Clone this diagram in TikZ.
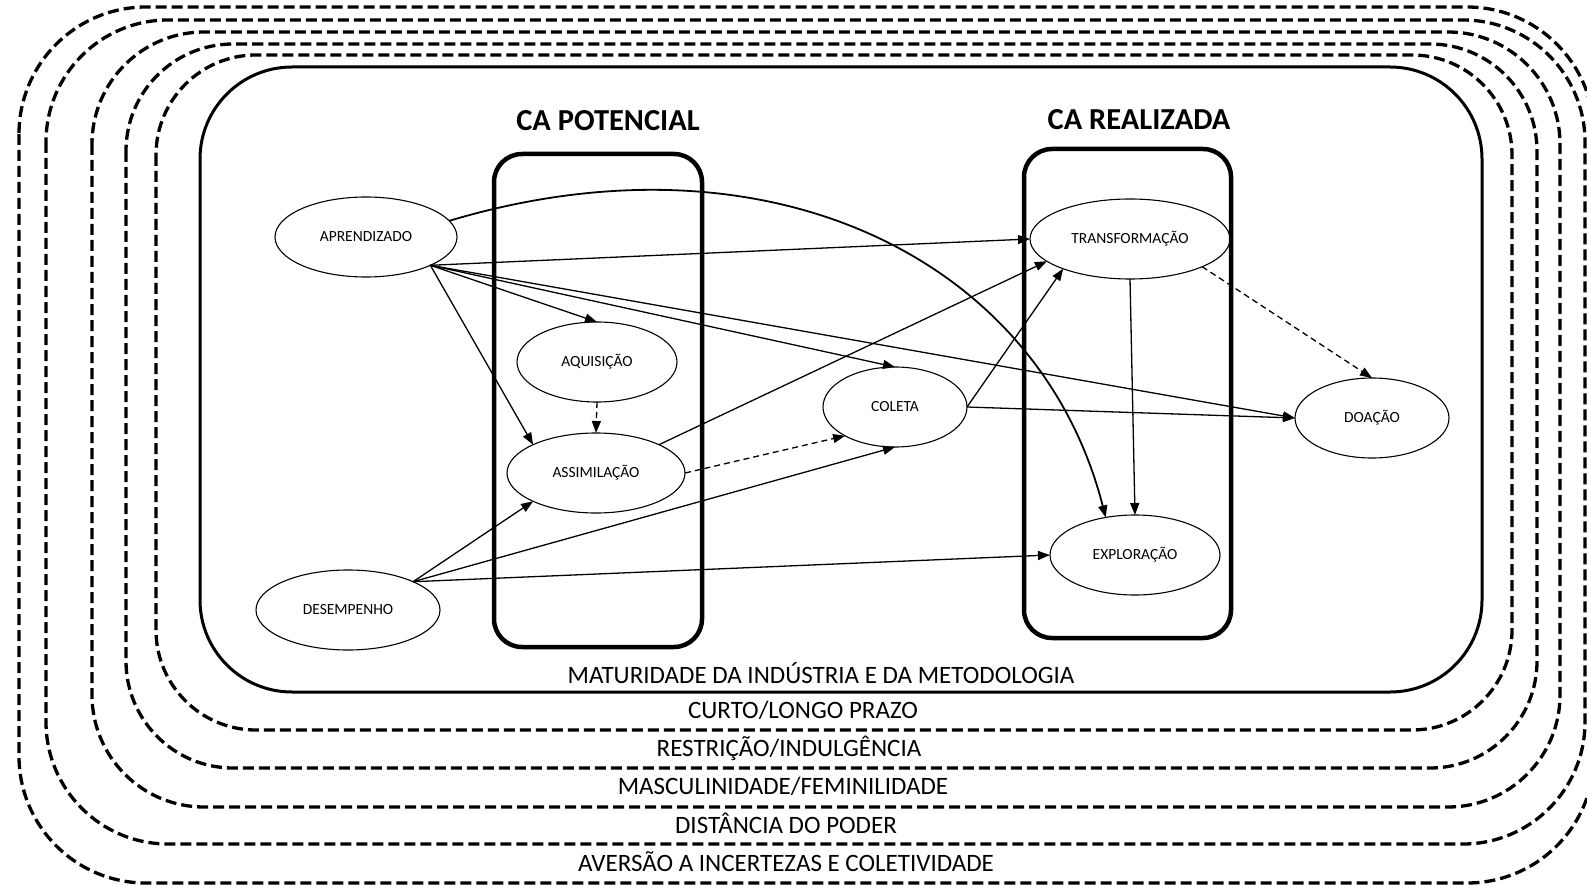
\documentclass[tikz,border=0pt]{standalone}
\usepackage{fontspec}
\setmainfont{Carlito}
\usetikzlibrary{arrows.meta,shapes.geometric}

\begin{document}
\begin{tikzpicture}[x=1pt,y=-1pt,
  frame/.style={line width=3.3pt, dash pattern=on 11pt off 5pt},
  stage/.style={draw, ellipse, line width=1.1pt, inner sep=0pt, outer sep=0pt,
    minimum height=80pt, font=\fontsize{15.5}{18}\selectfont},
  group/.style={draw, line width=4.5pt, rounded corners=28pt},
  link/.style={line width=1.3pt, -{Triangle[length=12pt,width=9pt]}},
  weak/.style={link, dash pattern=on 6pt off 4pt},
  title/.style={font=\fontsize{30.5}{36}\selectfont\bfseries},
  layer/.style={anchor=base, inner sep=0pt, font=\fontsize{25}{30}\selectfont}]
\useasboundingbox (0,0) rectangle (1587,885);
\clip (0,0) rectangle (1587,885);

% nested context layers
\draw[frame, rounded corners=127pt] (19,7) rectangle (1594,883);
\draw[frame, rounded corners=122pt] (46,20) rectangle (1585,844);
\draw[frame, rounded corners=112pt] (92,32) rectangle (1560,807);
\draw[frame, rounded corners=107pt] (126,44) rectangle (1537,768);
\draw[frame, rounded corners=100pt] (156,55) rectangle (1512,730);
\draw[line width=3pt, rounded corners=92pt] (200,67) rectangle (1482,692);

% layer names
\node[layer] (l1) at (821,683) {MATURIDADE DA INDÚSTRIA E DA METODOLOGIA};
\node[layer] (l2) at (803,718) {CURTO/LONGO PRAZO};
\node[layer] (l3) at (789,756) {RESTRIÇÃO/INDULGÊNCIA};
\node[layer] (l4) at (783,794) {MASCULINIDADE/FEMINILIDADE};
\node[layer] (l5) at (786,833) {DISTÂNCIA DO PODER};
\node[layer] (l6) at (786,871) {AVERSÃO A INCERTEZAS E COLETIVIDADE};

% absorptive capacity groups
\draw[group] (494,154) rectangle (702,647);
\draw[group] (1024,149) rectangle (1231,638);
\node[title] (potencial) at (608,121) {CA POTENCIAL};
\node[title] (realizada) at (1139,120) {CA REALIZADA};

% stages
\node[stage, minimum width=182pt] (aprendizado) at (366,237) {APRENDIZADO};
\node[stage, minimum width=160pt] (aquisicao) at (597,362) {AQUISIÇÃO};
\node[stage, minimum width=178pt] (assimilacao) at (596,473) {ASSIMILAÇÃO};
\node[stage, minimum width=184pt] (desempenho) at (348,610) {DESEMPENHO};
\node[stage, minimum width=144pt] (coleta) at (895,407) {COLETA};
\node[stage, minimum width=200pt] (transformacao) at (1130,239) {TRANSFORMAÇÃO};
\node[stage, minimum width=154pt] (doacao) at (1372,418) {DOAÇÃO};
\node[stage, minimum width=170pt] (exploracao) at (1135,555) {EXPLORAÇÃO};

% relations
\draw[link, line width=1.8pt] (aprendizado.11) .. controls (770,125) and (1040,260) .. (exploracao.128);
\draw[link] (aprendizado.south east) -- (transformacao.west);
\draw[link] (aprendizado.south east) -- (aquisicao.north);
\draw[link] (aprendizado.south east) -- (assimilacao.north west);
\draw[link] (aprendizado.south east) -- (coleta.north);
\draw[link] (aprendizado.south east) -- (doacao.west);
\draw[weak] (aquisicao.south) -- (assimilacao.north);
\draw[link] (assimilacao.north east) -- (transformacao.195);
\draw[weak] (assimilacao.east) -- (coleta.210);
\draw[link] (desempenho.north east) -- (assimilacao.south west);
\draw[link] (desempenho.north east) -- (coleta.south);
\draw[link] (desempenho.north east) -- (exploracao.west);
\draw[link] (coleta.east) -- (transformacao.204);
\draw[link] (coleta.east) -- (doacao.west);
\draw[link] (transformacao.south) -- (exploracao.north);
\draw[weak] (transformacao.339) -- (doacao.north);
\end{tikzpicture}
\end{document}
